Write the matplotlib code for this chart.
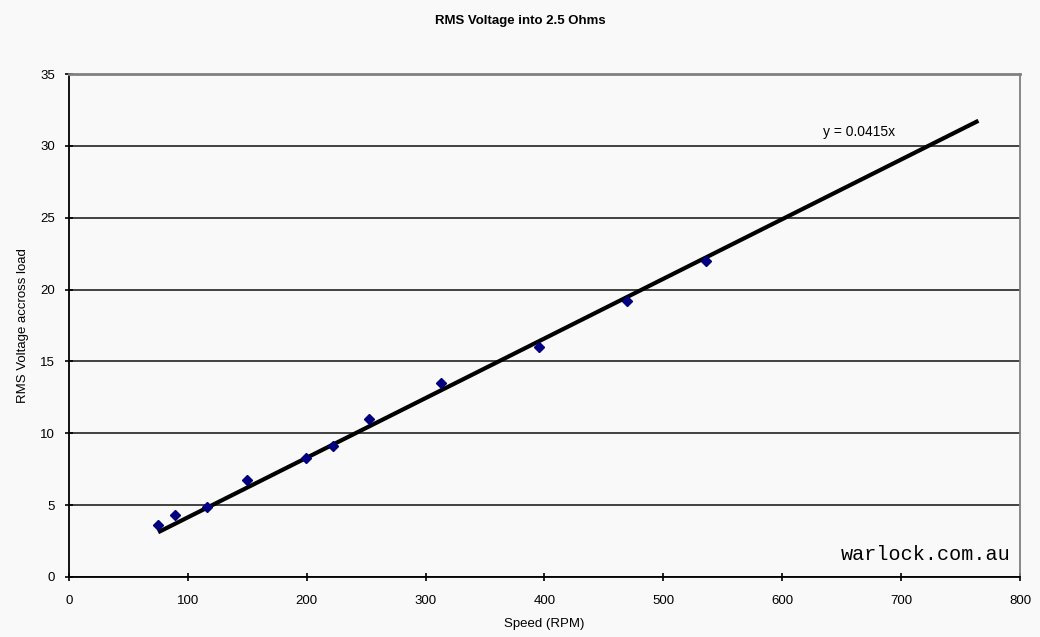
import numpy as np
import matplotlib.pyplot as plt

plt.rcParams['font.family'] = ['Liberation Sans', 'DejaVu Sans']

# measured points (speed in RPM, RMS volts)
speed = [75, 89, 116, 150, 199, 222, 252, 313, 395, 469, 536]
volts = [3.6, 4.3, 4.9, 6.75, 8.3, 9.1, 11.0, 13.5, 16.0, 19.2, 22.0]

# linear fit through origin, as labelled on the chart
slope = 0.0415
fit_range = [75, 765]

bg = '#f9f9f9'
fig = plt.figure(figsize=(10.4, 6.37), dpi=100, facecolor=bg)
ax = fig.add_axes([0.0663, 0.0942, 0.9145, 0.7896], facecolor=bg)

fx = np.array(fit_range)
ax.plot(fx, slope * fx, color='black', lw=3, solid_capstyle='butt', zorder=3)
ax.plot(speed, volts, 'D', color='#000080', ms=5, zorder=4)

ax.set_xlim(0, 800)
ax.set_ylim(0, 35)
ax.set_xticks(range(0, 801, 100))
ax.set_yticks(range(0, 36, 5))
ax.yaxis.grid(True, color='#333333', lw=1.3)
ax.set_axisbelow(True)

for s in ['left', 'bottom']:
    ax.spines[s].set_color('black')
    ax.spines[s].set_linewidth(1.3)
ax.spines['top'].set_color('#808080')
ax.spines['top'].set_linewidth(2)
ax.spines['right'].set_color('#808080')
ax.spines['right'].set_linewidth(1.3)
ax.tick_params(direction='inout', length=6, width=1.2, labelsize=9.5)
ax.tick_params(axis='x', pad=10)
ax.tick_params(axis='y', pad=7)

ax.set_xlabel('Speed (RPM)', fontsize=9.5, labelpad=8)
ax.set_ylabel('RMS Voltage accross load', fontsize=9.5, labelpad=8)
fig.suptitle('RMS Voltage into 2.5 Ohms', fontsize=9.5, fontweight='bold', y=0.977)

ax.text(665, 31.0, 'y = 0.0415x', fontsize=10, ha='center', va='center')
ax.text(792, 1.55, 'warlock.com.au', fontsize=14.5, family='Liberation Mono',
        ha='right', va='center')

fig.savefig('out.png', dpi=100, facecolor=bg)
